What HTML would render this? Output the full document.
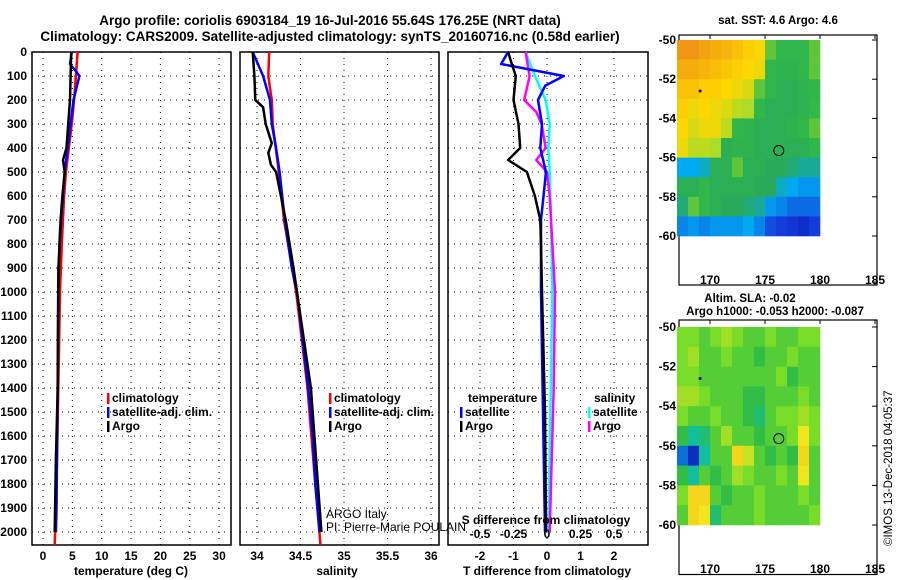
<!DOCTYPE html>
<html><head><meta charset="utf-8"><style>
body{margin:0;background:#fff}
svg{display:block;font-family:"Liberation Sans",sans-serif;font-weight:bold}
</style></head><body>
<svg id="c" width="900" height="580" viewBox="0 0 900 580">
<text x="330" y="25" text-anchor="middle" font-size="13.5">Argo profile: coriolis 6903184_19 16-Jul-2016 55.64S 176.25E (NRT data)</text>
<text x="330" y="41" text-anchor="middle" font-size="13.5">Climatology: CARS2009. Satellite-adjusted climatology: synTS_20160716.nc (0.58d earlier)</text>
<text x="778" y="24" text-anchor="middle" font-size="11.5">sat. SST: 4.6 Argo: 4.6</text>
<text x="750" y="302" text-anchor="middle" font-size="11.5">Altim. SLA: -0.02</text>
<text x="775" y="315" text-anchor="middle" font-size="11.5">Argo h1000: -0.053 h2000: -0.087</text>
<text transform="translate(892,546) rotate(-90)" font-size="11.5" font-weight="normal">©IMOS 13-Dec-2018 04:05:37</text>
</svg>
<script>
// ---- data ----
const depthTicks=[0,100,200,300,400,500,600,700,800,900,1000,1100,1200,1300,1400,1500,1600,1700,1800,1900,2000];
const tempTicks=[0,5,10,15,20,25,30];
const salTicks=[34,34.5,35,35.5,36];
const salTickLabels=["34","34.5","35","35.5","36"];
const dTTicks=[-2,-1,0,1,2];
const dSTicks=[-0.5,-0.25,0,0.25,0.5];
const dSTickLabels=["-0.5","-0.25","0","0.25","0.5"];

const tClimDepth=[0,100,200,300,400,500,600,800,1000,1400,1800,2054];
const tClimVal=[5.9,5.6,5.3,4.9,4.4,3.9,3.6,3.2,2.9,2.6,2.3,2.0];
const tSatDepth=[0,50,60,80,100,200,300,400,500,700,900,1400,1900,2000];
const tSatVal=[4.9,4.6,4.9,5.6,6.2,5.2,4.7,4.2,3.7,3.1,2.6,2.5,2.3,2.2];
const tArgoDepth=[0,100,200,300,400,450,500,600,700,800,1000,1400,1700,2000];
const tArgoVal=[4.8,4.7,4.6,4.3,4.0,3.4,3.7,3.3,3.0,2.8,2.6,2.5,2.2,2.0];

const sClimDepth=[0,100,200,300,500,700,1000,1400,1800,2054];
const sClimVal=[34.14,34.13,34.17,34.18,34.25,34.31,34.45,34.58,34.67,34.73];
const sSatDepth=[0,100,200,300,400,500,600,700,800,900,1000,1400,1600,1800,2000];
const sSatVal=[33.95,34.07,34.15,34.17,34.22,34.26,34.29,34.32,34.36,34.4,34.46,34.59,34.64,34.67,34.72];
const sArgoDepth=[0,100,200,230,300,380,420,470,500,700,900,1400,1800,2000];
const sArgoVal=[33.95,33.97,33.98,34.07,34.1,34.17,34.13,34.16,34.22,34.33,34.42,34.62,34.7,34.74];

const dTArgoDepth=[0,50,100,200,300,400,450,500,600,700,800,1000,1500,2000];
const dTArgoVal=[-1.16,-1.05,-0.93,-1.0,-0.85,-0.8,-1.16,-0.6,-0.36,-0.2,-0.18,-0.15,-0.06,-0.03];
const dTSatDepth=[0,50,60,100,140,200,300,400,500,700,1000,2000];
const dTSatVal=[-1.16,-1.37,-1.0,0.5,-0.05,-0.27,-0.15,-0.2,-0.03,-0.18,-0.18,-0.06];
const dSArgoDepth=[0,100,200,250,300,400,450,500,600,900,1000,1400,2000];
const dSArgoVal=[-0.16,-0.13,-0.17,-0.08,-0.04,-0.01,-0.08,0,0.02,0.05,0.06,0.05,0.02];
const dSSatDepth=[0,100,200,300,400,500,700,1000,2000];
const dSSatVal=[-0.16,-0.09,-0.01,0.02,0.01,0.02,0.03,0.04,0.01];

const mapLons=[167,168,169,170,171,172,173,174,175,176,177,178,179];
const mapLats=[-50,-51,-52,-53,-54,-55,-56,-57,-58,-59];
const sstGrid=[
[.85,.85,.82,.8,.78,.75,.72,.7,.55,.5,.5,.5,.55],
[.8,.8,.78,.76,.74,.72,.7,.68,.5,.48,.48,.5,.55],
[.75,.75,.72,.72,.7,.68,.65,.55,.5,.45,.45,.48,.5],
[.72,.68,.7,.68,.66,.62,.6,.5,.45,.45,.45,.48,.52],
[.7,.65,.68,.68,.62,.5,.48,.45,.45,.45,.48,.5,.55],
[.68,.62,.62,.6,.45,.48,.48,.45,.45,.45,.45,.45,.5],
[.32,.32,.35,.45,.45,.55,.45,.45,.42,.42,.4,.38,.38],
[.45,.45,.5,.45,.45,.45,.45,.42,.42,.35,.32,.3,.3],
[.4,.55,.5,.45,.42,.42,.4,.38,.3,.28,.25,.25,.25],
[.28,.3,.28,.3,.3,.3,.32,.28,.22,.2,.18,.15,.2]];
const slaGrid=[
[.55,.55,.5,.55,.6,.55,.5,.5,.55,.5,.5,.55,.55],
[.55,.6,.5,.5,.55,.5,.5,.45,.5,.5,.55,.5,.5],
[.55,.55,.5,.5,.5,.5,.5,.5,.5,.55,.45,.5,.5],
[.6,.6,.55,.5,.5,.5,.45,.45,.5,.5,.5,.55,.5],
[.55,.5,.5,.55,.5,.5,.45,.4,.5,.55,.55,.6,.55],
[.45,.35,.4,.5,.6,.5,.5,.45,.5,.5,.55,.7,.55],
[.2,.1,.35,.5,.5,.75,.65,.5,.45,.5,.45,.75,.5],
[.45,.35,.5,.45,.5,.6,.55,.5,.5,.55,.5,.7,.5],
[.55,.75,.75,.5,.45,.5,.5,.55,.5,.5,.5,.55,.5],
[.5,.75,.7,.4,.5,.5,.5,.55,.5,.5,.5,.5,.55]];
const argoPos=[176.25,-55.64];
const otherPos=[169.1,-52.6];
const mapLonTicks=[170,175,180,185];
const mapLatTicks=[-50,-52,-54,-56,-58,-60];

// ---- drawing ----
const svg=document.getElementById('c');
const NS='http://www.w3.org/2000/svg';
function el(tag,attrs,parent){const e=document.createElementNS(NS,tag);for(const k in attrs)e.setAttribute(k,attrs[k]);(parent||svg).appendChild(e);return e;}
function txt(x,y,s,attrs){const t=el('text',Object.assign({x:x,y:y,'font-size':12},attrs||{}));t.textContent=s;return t;}
const yD=d=>52+d*0.24;
const TOP=52,BOT=545;

function panel(x0,x1,name){
  const g=el('g',{});
  
  
  return g;
}
function grid(g,x0,x1,xs){
  depthTicks.forEach(d=>{if(d>0){const l=el('line',{x1:x0,x2:x1,y1:yD(d),y2:yD(d),stroke:'#000','stroke-dasharray':'1,5'},g);}});
  xs.forEach(x=>{const l=el('line',{x1:x,x2:x,y1:TOP,y2:BOT,stroke:'#000','stroke-dasharray':'1,5'},g);});
  const r=el('rect',{x:x0,y:TOP,width:x1-x0,height:BOT-TOP,fill:'none',stroke:'#000','stroke-width':1.5},g);
  
}
function line(g,depths,vals,fx,color,name,w){
  const pts=depths.map((d,i)=>fx(vals[i]).toFixed(1)+','+yD(d).toFixed(1)).join(' ');
  const p=el('polyline',{points:pts,fill:'none',stroke:color,'stroke-width':w||2.5,'stroke-linejoin':'round'},g);
  
}
function legend(g,x,y,color,label,name){
  const m=el('rect',{x:x,y:y-9,width:2.5,height:11,fill:color},g);
  
  const t=txt(x+5,y,label,{});g.appendChild(t);
  
}

// Panel 1 temperature
const xT=v=>43+v*5.87;
let g1=panel(32,231,'temperature-panel');
grid(g1,32,231,tempTicks.map(xT));
depthTicks.forEach(d=>{const t=txt(27,yD(d)+4,String(d),{'text-anchor':'end'});});
tempTicks.forEach(v=>{const t=txt(xT(v),560,String(v),{'text-anchor':'middle'});});
let t1=txt(131,575,'temperature (deg C)',{'text-anchor':'middle'});
line(g1,tClimDepth,tClimVal,xT,'#f00','temp-climatology-line');
line(g1,tSatDepth,tSatVal,xT,'#00f','temp-satellite-line');
line(g1,tArgoDepth,tArgoVal,xT,'#000','temp-argo-line');
legend(g1,107,402,'#f00','climatology','legend-climatology');
legend(g1,107,416,'#00f','satellite-adj. clim.','legend-satellite-adj');
legend(g1,107,430,'#000','Argo','legend-argo');

// Panel 2 salinity
const xS=v=>257+(v-34)*87;
let g2=panel(240,439,'salinity-panel');
grid(g2,240,439,salTicks.map(xS));
salTicks.forEach((v,i)=>{const t=txt(xS(v),560,salTickLabels[i],{'text-anchor':'middle'});});
let t2=txt(337,575,'salinity',{'text-anchor':'middle'});
line(g2,sClimDepth,sClimVal,xS,'#f00','sal-climatology-line');
line(g2,sSatDepth,sSatVal,xS,'#00f','sal-satellite-line');
line(g2,sArgoDepth,sArgoVal,xS,'#000','sal-argo-line');
legend(g2,329,402,'#f00','climatology','legend-climatology-sal');
legend(g2,329,416,'#00f','satellite-adj. clim.','legend-satellite-adj-sal');
legend(g2,329,430,'#000','Argo','legend-argo-sal');
let c1=txt(326,518,'ARGO Italy',{'font-weight':'normal'});
let c2=txt(326,531,'PI: Pierre-Marie POULAIN',{'font-weight':'normal'});

// Panel 3 differences
const xD=v=>547+v*33.5;
const xDS=v=>547+v*4*33.5;
let g3=panel(448,648,'difference-panel');
grid(g3,448,648,dTTicks.map(xD));
dTTicks.forEach(v=>{const t=txt(xD(v),560,String(v),{'text-anchor':'middle'});});
dSTicks.forEach((v,i)=>{const t=txt(xDS(v),538,dSTickLabels[i],{'text-anchor':'middle'});});
let t3=txt(547,575,'T difference from climatology',{'text-anchor':'middle'});
let t4=txt(546,524,'S difference from climatology',{'text-anchor':'middle'});
line(g3,dSSatDepth,dSSatVal,xDS,'#0ff','dS-satellite-line');
line(g3,dSArgoDepth,dSArgoVal,xDS,'#f0f','dS-argo-line');
line(g3,dTSatDepth,dTSatVal,xD,'#00f','dT-satellite-line');
line(g3,dTArgoDepth,dTArgoVal,xD,'#000','dT-argo-line');
let lt=txt(468,402,'temperature',{});
legend(g3,460,416,'#00f','satellite','legend-dT-satellite');
legend(g3,460,430,'#000','Argo','legend-dT-argo');
let ls=txt(594,402,'salinity',{});
legend(g3,588,416,'#0ff','satellite','legend-dS-satellite');
legend(g3,588,430,'#f0f','Argo','legend-dS-argo');

// colormaps
function lerp(a,b,t){return a.map((v,i)=>Math.round(v+(b[i]-v)*t));}
function cmap(stops,v){for(let i=0;i<stops.length-1;i++){if(v<=stops[i+1][0]){const t=(v-stops[i][0])/(stops[i+1][0]-stops[i][0]);const c=lerp(stops[i][1],stops[i+1][1],Math.max(0,t));return 'rgb('+c.join(',')+')';}}return 'rgb('+stops[stops.length-1][1].join(',')+')';}
const sstStops=[[0,[0,0,140]],[.2,[20,60,220]],[.32,[0,170,240]],[.42,[40,170,90]],[.52,[50,185,70]],[.6,[170,220,40]],[.7,[255,215,0]],[.85,[240,150,20]],[1,[220,100,0]]];
const slaStops=[[0,[0,0,140]],[.15,[20,70,220]],[.3,[0,190,200]],[.45,[50,190,70]],[.55,[120,220,40]],[.7,[240,230,30]],[.85,[250,180,20]],[1,[240,120,0]]];

function map(y0,yTop,yScale,gridv,stops,name,labelY){
  const gm=el('g',{});
  
  const xL=v=>710+(v-170)*11;
  const yL=v=>yTop+(-50-v)*yScale;
  const fr=el('rect',{x:679,y:y0,width:198,height:(yL(-62.5)-y0),fill:'#fff',stroke:'#000','stroke-width':1.2},gm);
  
  mapLats.forEach((la,r)=>mapLons.forEach((lo,c)=>{
    const cell=el('rect',{x:xL(lo).toFixed(1),y:yL(la).toFixed(1),width:11.3,height:yScale+0.3,fill:cmap(stops,gridv[r][c])},gm);
    
  }));
  const bottom=yL(-62.5);
  mapLatTicks.forEach(la=>{
    const t=txt(676,yL(la)+4,String(la),{'text-anchor':'end'});gm.appendChild(t);
    
    el('line',{x1:872,x2:877,y1:yL(la),y2:yL(la),stroke:'#000'},gm);
  });
  mapLonTicks.forEach(lo=>{
    const t=txt(xL(lo),labelY,String(lo),{'text-anchor':'middle'});gm.appendChild(t);
    
    el('line',{x1:xL(lo),x2:xL(lo),y1:y0,y2:y0+4,stroke:'#000'},gm);
    el('line',{x1:xL(lo),x2:xL(lo),y1:bottom-4,y2:bottom,stroke:'#000'},gm);
  });
  const ci=el('circle',{cx:xL(argoPos[0]),cy:yL(argoPos[1]),r:5,fill:'none',stroke:'#000','stroke-width':1},gm);
  
  const d=el('circle',{cx:xL(otherPos[0]),cy:yL(otherPos[1]),r:1.5,fill:'#000'},gm);
  
}
map(35,40,19.6,sstGrid,sstStops,'sst-map',284);
map(320,327,19.8,slaGrid,slaStops,'sla-map',573);
</script>
</body></html>
